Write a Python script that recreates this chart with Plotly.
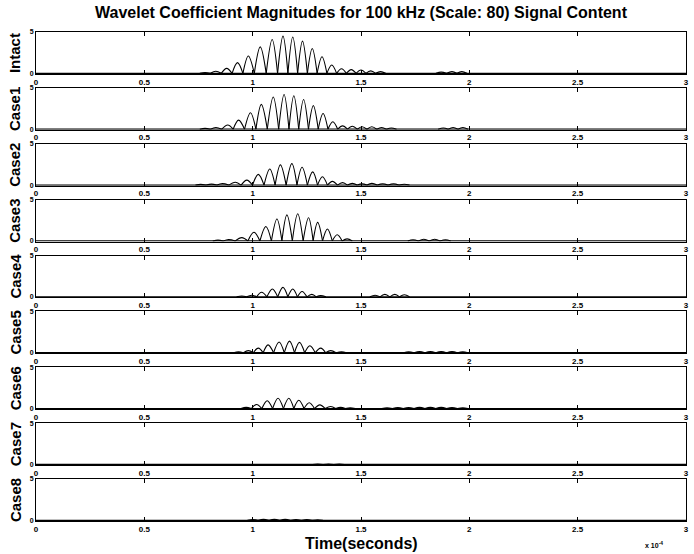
import plotly.graph_objects as go
from plotly.subplots import make_subplots

# Time axis in units of 1e-4 s
X_RANGE = [0, 3]
X_TICKS = [0, 0.5, 1, 1.5, 2, 2.5, 3]
X_TICK_TEXT = ["0", "0.5", "1", "1.5", "2", "2.5", "3"]
Y_RANGE = [-0.08, 5]
Y_TICKS = [0, 5]

CASES = ["Intact", "Case1", "Case2", "Case3", "Case4", "Case5", "Case6", "Case7", "Case8"]

# peak times (x1e-4 s) and peak magnitudes of each rectified hump
INTACT_T = [0.78, 0.83, 0.88, 0.93, 0.98, 1.035, 1.09, 1.14, 1.185, 1.23, 1.275, 1.32, 1.365, 1.41, 1.455, 1.50, 1.545, 1.59, 1.87, 1.92, 1.965]
INTACT_V = [0.1, 0.25, 0.6, 1.3, 2.1, 3.2, 4.1, 4.5, 4.4, 3.9, 3.0, 2.0, 1.0, 0.55, 0.45, 0.4, 0.3, 0.2, 0.15, 0.2, 0.2]

CASE1_T = [0.78, 0.83, 0.885, 0.935, 0.99, 1.04, 1.095, 1.145, 1.19, 1.235, 1.28, 1.325, 1.37, 1.415, 1.46, 1.505, 1.55, 1.595, 1.64, 1.88, 1.925, 1.97]
CASE1_V = [0.1, 0.2, 0.5, 1.1, 2.0, 3.0, 3.9, 4.2, 4.05, 3.6, 2.85, 1.9, 0.9, 0.4, 0.35, 0.3, 0.3, 0.2, 0.15, 0.15, 0.2, 0.2]

CASE2_T = [0.76, 0.81, 0.86, 0.92, 0.973, 1.026, 1.079, 1.128, 1.181, 1.228, 1.277, 1.322, 1.368, 1.415, 1.46, 1.505, 1.55, 1.6, 1.65, 1.70]
CASE2_V = [0.08, 0.12, 0.17, 0.35, 0.6, 1.3, 1.95, 2.45, 2.6, 2.15, 1.6, 1.0, 0.45, 0.3, 0.2, 0.15, 0.2, 0.15, 0.15, 0.1]

CASE3_T = [0.84, 0.889, 0.95, 1.006, 1.061, 1.112, 1.158, 1.208, 1.258, 1.30, 1.345, 1.39, 1.436, 1.74, 1.79, 1.84, 1.89]
CASE3_V = [0.1, 0.17, 0.4, 1.05, 1.75, 2.65, 3.15, 3.3, 2.8, 2.25, 1.45, 0.75, 0.25, 0.15, 0.2, 0.2, 0.15]

CASE4_T = [0.95, 0.995, 1.041, 1.091, 1.14, 1.185, 1.228, 1.273, 1.314, 1.565, 1.61, 1.656, 1.70]
CASE4_V = [0.1, 0.2, 0.55, 0.95, 1.15, 0.95, 0.65, 0.3, 0.15, 0.2, 0.3, 0.3, 0.25]

CASE5_T = [0.935, 0.98, 1.026, 1.071, 1.122, 1.17, 1.216, 1.264, 1.314, 1.36, 1.41, 1.72, 1.77, 1.82, 1.87, 1.92, 1.97]
CASE5_V = [0.1, 0.25, 0.55, 0.95, 1.3, 1.4, 1.25, 0.85, 0.55, 0.25, 0.12, 0.12, 0.15, 0.15, 0.15, 0.15, 0.1]

CASE6_T = [0.97, 1.018, 1.067, 1.117, 1.167, 1.213, 1.261, 1.31, 1.36, 1.406, 1.45, 1.62, 1.67, 1.72, 1.77, 1.82, 1.87, 1.92, 1.97]
CASE6_V = [0.15, 0.5, 0.95, 1.25, 1.25, 1.0, 0.7, 0.45, 0.25, 0.15, 0.1, 0.1, 0.12, 0.12, 0.15, 0.15, 0.15, 0.12, 0.1]

CASE7_T = [1.30, 1.35, 1.40]
CASE7_V = [0.05, 0.06, 0.05]

CASE8_T = [1.0, 1.05, 1.1, 1.15, 1.2, 1.25, 1.3]
CASE8_V = [0.1, 0.12, 0.12, 0.12, 0.1, 0.1, 0.08]

SERIES = [
    (INTACT_T, INTACT_V), (CASE1_T, CASE1_V), (CASE2_T, CASE2_V),
    (CASE3_T, CASE3_V), (CASE4_T, CASE4_V), (CASE5_T, CASE5_V),
    (CASE6_T, CASE6_V), (CASE7_T, CASE7_V), (CASE8_T, CASE8_V),
]

FONT = "Liberation Sans"
N = len(CASES)
W, H = 694, 554
ML, MR, MT, MB = 36, 5, 32, 33
PW, PH = W - ML - MR, H - MT - MB

fig = make_subplots(rows=N, cols=1, vertical_spacing=0.0284)


def humps(t, v):
    xs, ys = [], []
    half_default = 0.024
    for k in range(len(t)):
        if k > 0 and t[k] - t[k - 1] < 0.07:
            left = (t[k - 1] + t[k]) / 2
        else:
            left = t[k] - half_default
        if k < len(t) - 1 and t[k + 1] - t[k] < 0.07:
            right = (t[k] + t[k + 1]) / 2
        else:
            right = t[k] + half_default
        xs += [left, t[k], right, None]
        ys += [0, v[k], 0, None]
    return xs, ys


for i, (name, (t, v)) in enumerate(zip(CASES, SERIES)):
    r = i + 1
    fig.add_trace(go.Scatter(x=X_RANGE, y=[0, 0], mode="lines",
                             line=dict(color="black", width=1.2),
                             hoverinfo="skip", showlegend=False), row=r, col=1)
    xs, ys = humps(t, v)
    fig.add_trace(go.Scatter(x=xs, y=ys, mode="lines",
                             line=dict(color="black", width=1.1, shape="spline"),
                             hoverinfo="skip", showlegend=False), row=r, col=1)
    fig.update_xaxes(range=X_RANGE, tickvals=X_TICKS, ticktext=X_TICK_TEXT,
                     ticks="inside", ticklen=4, tickcolor="black",
                     showline=True, linecolor="black", linewidth=1, mirror="ticks",
                     showgrid=False, zeroline=False,
                     tickfont=dict(family=FONT, size=8, color="black", weight="bold"),
                     row=r, col=1)
    fig.update_yaxes(range=Y_RANGE, tickvals=Y_TICKS, ticktext=["0", "5"],
                     ticks="inside", ticklen=3, tickcolor="black",
                     showline=True, linecolor="black", linewidth=1, mirror="ticks",
                     showgrid=False, zeroline=False,
                     tickfont=dict(family=FONT, size=7, color="black", weight="bold"),
                     row=r, col=1)
    yref = "y domain" if r == 1 else f"y{r} domain"
    fig.add_annotation(text=f"<b>{name}</b>", xref="paper", yref=yref,
                       x=-21 / PW, y=0.5, textangle=-90,
                       showarrow=False, xanchor="center", yanchor="middle",
                       font=dict(family=FONT, size=15, color="black"))

fig.add_annotation(text="<b>Wavelet Coefficient Magnitudes for 100 kHz (Scale: 80) Signal Content</b>",
                   xref="paper", yref="paper", x=0.5, y=1 + (MT - 12) / PH,
                   showarrow=False, xanchor="center", yanchor="middle",
                   font=dict(family=FONT, size=16, color="black"))
fig.add_annotation(text="<b>Time(seconds)</b>", xref="paper", yref="paper",
                   x=0.5, y=-(543 - (H - MB)) / PH,
                   showarrow=False, xanchor="center", yanchor="middle",
                   font=dict(family=FONT, size=16, color="black"))
fig.add_annotation(text="<b>x 10<sup>-4</sup></b>", xref="paper", yref="paper",
                   x=(657 - ML) / PW, y=-(545 - (H - MB)) / PH,
                   showarrow=False, xanchor="center", yanchor="middle",
                   font=dict(family=FONT, size=7, color="black"))

fig.update_layout(width=W, height=H, margin=dict(l=ML, r=MR, t=MT, b=MB),
                  plot_bgcolor="white", paper_bgcolor="white", showlegend=False)

fig.write_html("out.html")
